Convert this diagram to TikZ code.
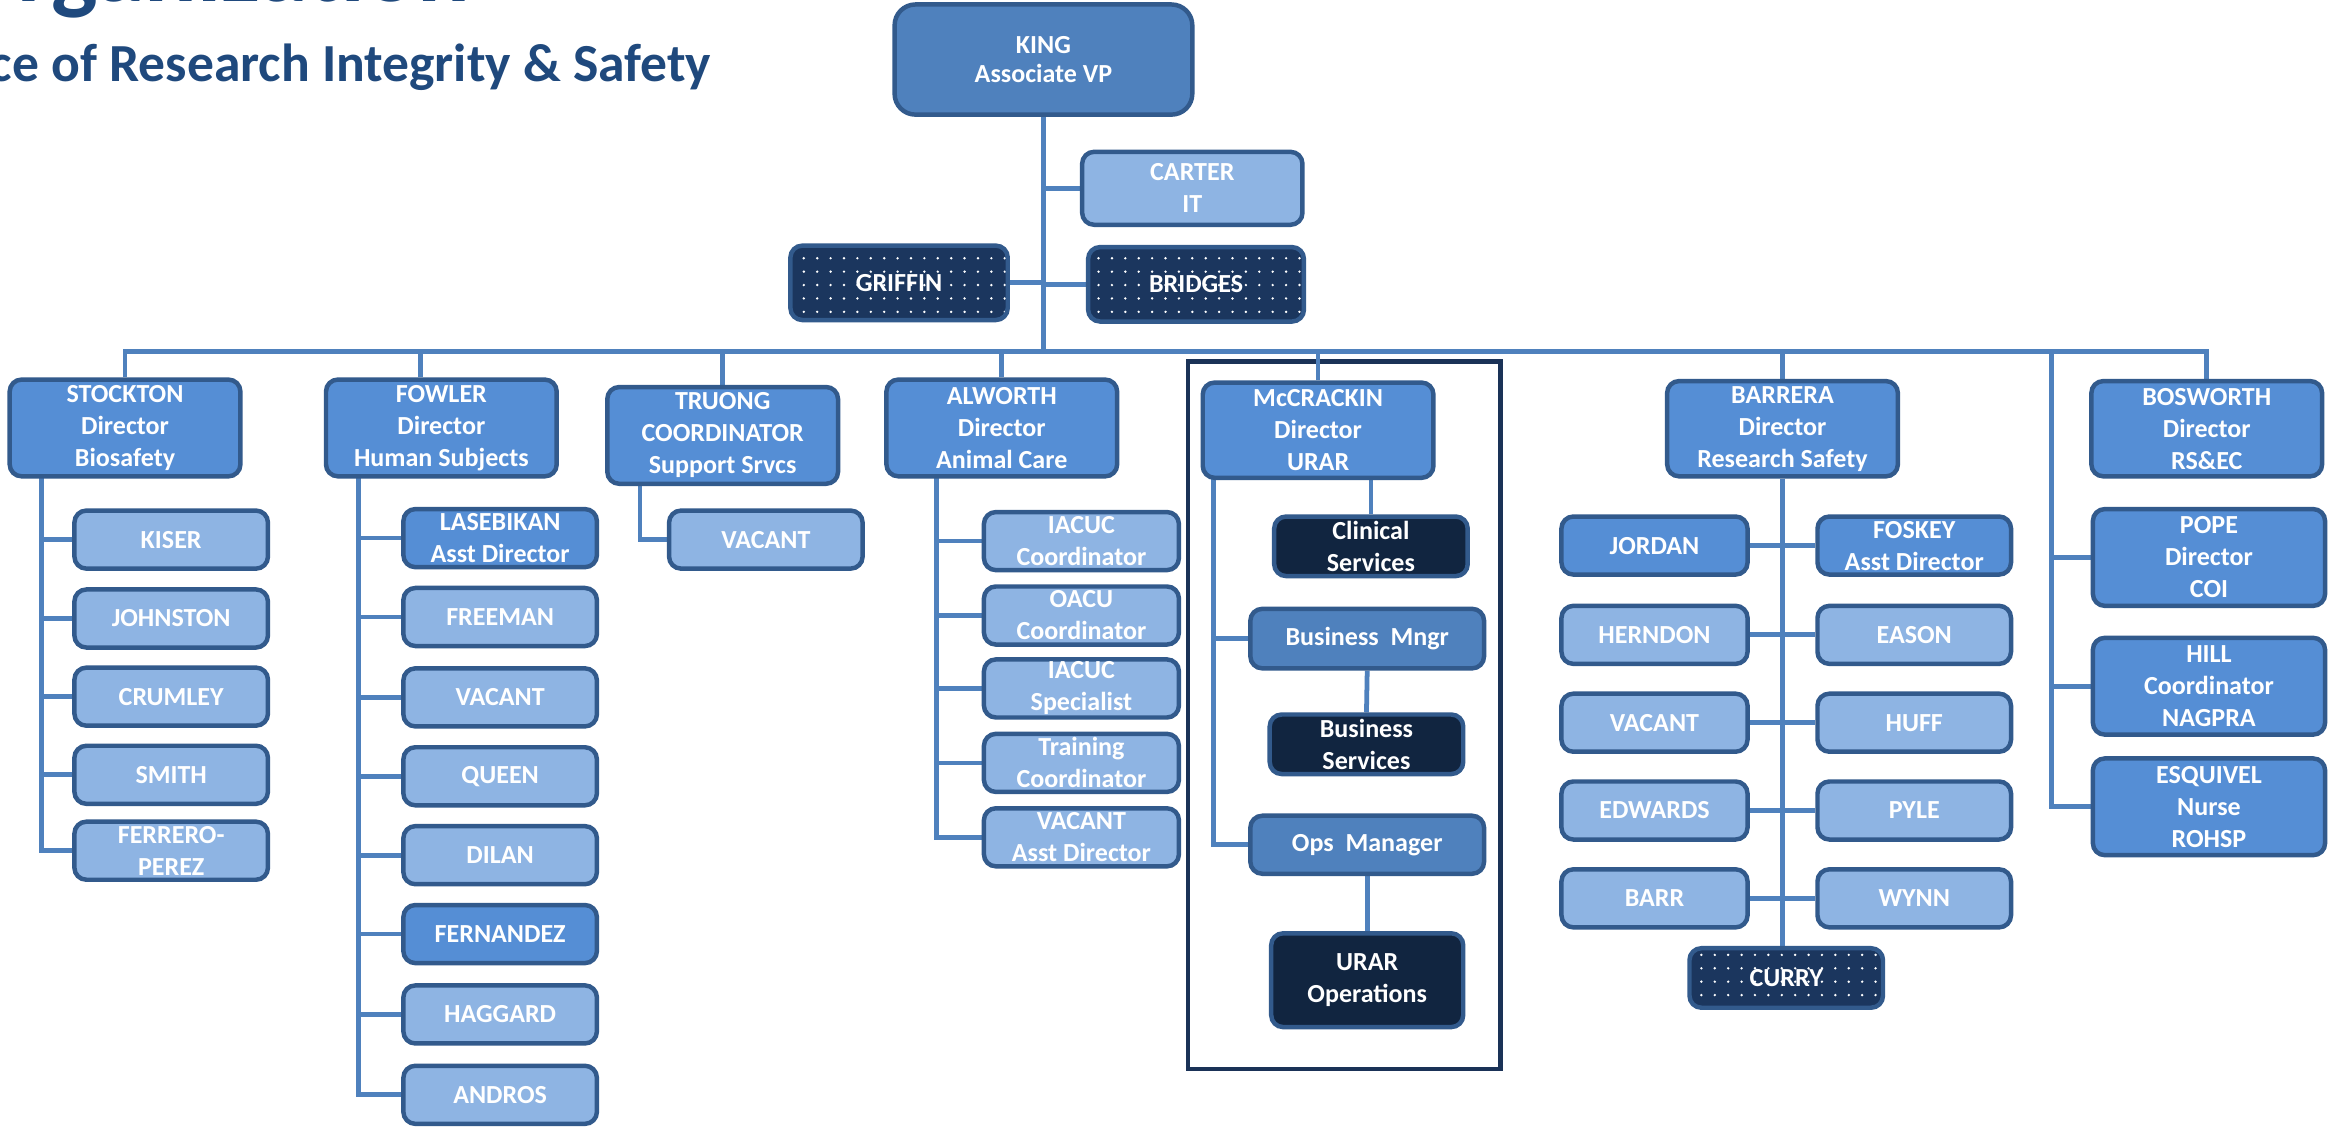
\documentclass[tikz,border=0pt]{standalone}
\usepackage{fontspec}
\setmainfont{Carlito}
\usetikzlibrary{patterns.meta,backgrounds}

\definecolor{linkblue}{HTML}{4F81BD}
\definecolor{boxline}{HTML}{325A8C}
\definecolor{kingfill}{HTML}{4F81BD}
\definecolor{midfill}{HTML}{558ED5}
\definecolor{lightfill}{HTML}{8EB4E3}
\definecolor{navyfill}{HTML}{112540}
\definecolor{dotfill}{HTML}{1B365E}
\definecolor{titleblue}{HTML}{1F497D}
\definecolor{framenavy}{HTML}{1A3257}

\tikzset{
  box/.style={draw=boxline, line width=3pt, rounded corners=8pt, text=white,
    font=\bfseries\fontsize{17.5}{21.5}\selectfont, align=center, inner sep=0pt},
  head/.style={box, fill=midfill, minimum width=155, minimum height=65},
  sub/.style={box, fill=lightfill, minimum width=130, minimum height=39},
  subdark/.style={box, fill=midfill, minimum width=130, minimum height=39},
  navybox/.style={box, fill=navyfill, minimum width=130, minimum height=40},
  mgrbox/.style={box, fill=kingfill, minimum width=157, minimum height=40},
  dotbox/.style={box, preaction={fill=dotfill},
    pattern={Dots[distance=9pt, radius=0.9pt]}, pattern color=white,
    minimum width=146, minimum height=50},
  link/.style={draw=linkblue, line width=3.2pt},
  urarframe/.style={draw=framenavy, line width=3pt}
}

\begin{document}
\begin{tikzpicture}[x=1pt, y=-1pt]
    \useasboundingbox (0,0) rectangle (1568,758.5);
    \clip (0,0) rectangle (1568,758.5);

    % Titles, cut at the page edge
    \node[anchor=base east, inner sep=0pt, text=titleblue,
          font=\bfseries\fontsize{66}{70}\selectfont] (orgtitle) at (316,1) {Organization};
    \node[anchor=base east, inner sep=0pt, text=titleblue,
          font=\bfseries\fontsize{36}{40}\selectfont] (office) at (478,55) {Office of Research Integrity \& Safety};

    % Top of the chart
    \node[box, fill=kingfill, rounded corners=14pt, minimum width=200, minimum height=74,
          font=\bfseries\fontsize{17.5}{19.5}\selectfont] (king) at (701,40) {KING\\Associate VP};
    \node[box, fill=lightfill, minimum width=148, minimum height=49] (carter) at (801,126.5) {CARTER\\IT};
    \node[dotbox] (griffin) at (604,190) {GRIFFIN};
    \node[dotbox, minimum width=145] (bridges) at (803.5,191) {BRIDGES};

    % Directors
    \node[head] (stockton) at (84,287.5) {STOCKTON\\Director\\Biosafety};
    \node[head] (fowler) at (296.5,287.5) {FOWLER\\Director\\Human Subjects};
    \node[head] (truong) at (485.5,292.5) {TRUONG\\COORDINATOR\\Support Srvcs};
    \node[head] (alworth) at (673,287.5) {ALWORTH\\Director\\Animal Care};
    \node[head, minimum height=64] (mccrackin) at (885.5,289) {McCRACKIN\\Director\\URAR};
    \node[head, minimum height=64] (barrera) at (1197.5,288) {BARRERA\\Director\\Research Safety};
    \node[head, minimum height=64] (bosworth) at (1482.5,288) {BOSWORTH\\Director\\RS\&EC};

    % Biosafety staff
    \node[sub] (kiser) at (115,362.5) {KISER};
    \node[sub] (johnston) at (115,415.5) {JOHNSTON};
    \node[sub] (crumley) at (115,468) {CRUMLEY};
    \node[sub] (smith) at (115,520.5) {SMITH};
    \node[sub] (ferrero) at (115,571.5) {FERRERO-\\PEREZ};

    % Human subjects staff
    \node[subdark] (lasebikan) at (336,361.5) {LASEBIKAN\\Asst Director};
    \node[sub] (freeman) at (336,414.5) {FREEMAN};
    \node[sub] (vacanths) at (336,468.5) {VACANT};
    \node[sub] (queen) at (336,521.5) {QUEEN};
    \node[sub] (dilan) at (336,574.5) {DILAN};
    \node[subdark] (fernandez) at (336,627.5) {FERNANDEZ};
    \node[sub] (haggard) at (336,681.5) {HAGGARD};
    \node[sub] (andros) at (336,735.5) {ANDROS};

    % Support services
    \node[sub] (vacantss) at (514.5,362.5) {VACANT};

    % Animal care staff
    \node[sub, minimum width=131] (iacucco) at (726.5,363.5) {IACUC\\Coordinator};
    \node[sub, minimum width=131] (oacuco) at (726.5,413.5) {OACU\\Coordinator};
    \node[sub, minimum width=131] (iacucsp) at (726.5,462.5) {IACUC\\Specialist};
    \node[sub, minimum width=131] (training) at (726.5,512.5) {Training\\Coordinator};
    \node[sub, minimum width=131] (vacantac) at (726.5,562.5) {VACANT\\Asst Director};

    % URAR
    \node[navybox] (clinical) at (921,367) {Clinical\\Services};
    \node[mgrbox] (bizmgr) at (918.5,429) {Business\ \ Mngr};
    \node[navybox] (bizsvc) at (918,500) {Business\\Services};
    \node[mgrbox, minimum height=39] (opsmgr) at (918.5,567.5) {Ops\ \ Manager};
    \node[navybox, minimum width=129, minimum height=63] (uraops) at (918.5,658.5) {URAR\\Operations};

    % Research safety staff
    \node[subdark, minimum width=125] (jordan) at (1111.5,366.5) {JORDAN};
    \node[subdark] (foskey) at (1286,366.5) {FOSKEY\\Asst Director};
    \node[sub, minimum width=125] (herndon) at (1111.5,426.5) {HERNDON};
    \node[sub] (eason) at (1286,426.5) {EASON};
    \node[sub, minimum width=125] (vacantrs) at (1111.5,485.5) {VACANT};
    \node[sub] (huff) at (1286,485.5) {HUFF};
    \node[sub, minimum width=125] (edwards) at (1111.5,544.5) {EDWARDS};
    \node[sub] (pyle) at (1286,544.5) {PYLE};
    \node[sub, minimum width=125] (barr) at (1111.5,603.5) {BARR};
    \node[sub] (wynn) at (1286,603.5) {WYNN};
    \node[dotbox, minimum width=130, minimum height=40] (curry) at (1200,657) {CURRY};

    % RS&EC staff
    \node[head, minimum width=156] (pope) at (1484,374.5) {POPE\\Director\\COI};
    \node[head, minimum width=156] (hill) at (1484,461) {HILL\\Coordinator\\NAGPRA};
    \node[head, minimum width=156] (esquivel) at (1484,542) {ESQUIVEL\\Nurse\\ROHSP};

    % Connectors behind the boxes
    \begin{scope}[on background layer]
        \fill[white] (0,0) rectangle (1568,758.5);
        \draw[urarframe] (798,243) rectangle (1008,718);

        \coordinate (bus) at (701,236);
        \draw[link] (king.south) -- (bus);
        \draw[link] (carter.west) -- (carter.west -| king.south);
        \draw[link] (griffin.east) -- (griffin.east -| king.south);
        \draw[link] (bridges.west) -- (bridges.west -| king.south);
        \draw[link] (stockton.north) |- (bus) -| (bosworth.north);
        \draw[link] ([xshift=-14pt]fowler.north) -- ([xshift=-14pt]fowler.north |- bus);
        \draw[link] (truong.north) -- (truong.north |- bus);
        \draw[link] (alworth.north) -- (alworth.north |- bus);
        \draw[link] (mccrackin.north) -- (mccrackin.north |- bus);
        \draw[link] (barrera.north) -- (barrera.north |- bus);

        % Biosafety
        \coordinate (stocktrunk) at (28,320);
        \draw[link] (stocktrunk) |- (ferrero.west);
        \draw[link] (kiser.west) -- (kiser.west -| stocktrunk);
        \draw[link] (johnston.west) -- (johnston.west -| stocktrunk);
        \draw[link] (crumley.west) -- (crumley.west -| stocktrunk);
        \draw[link] (smith.west) -- (smith.west -| stocktrunk);

        % Human subjects
        \coordinate (fowltrunk) at (241,320);
        \draw[link] (fowltrunk) |- (andros.west);
        \draw[link] (lasebikan.west) -- (lasebikan.west -| fowltrunk);
        \draw[link] (freeman.west) -- (freeman.west -| fowltrunk);
        \draw[link] (vacanths.west) -- (vacanths.west -| fowltrunk);
        \draw[link] (queen.west) -- (queen.west -| fowltrunk);
        \draw[link] (dilan.west) -- (dilan.west -| fowltrunk);
        \draw[link] (fernandez.west) -- (fernandez.west -| fowltrunk);
        \draw[link] (haggard.west) -- (haggard.west -| fowltrunk);

        % Support services
        \draw[link] (430,325) |- (vacantss.west);

        % Animal care
        \coordinate (alwtrunk) at (629,320);
        \draw[link] (alwtrunk) |- (vacantac.west);
        \draw[link] (iacucco.west) -- (iacucco.west -| alwtrunk);
        \draw[link] (oacuco.west) -- (oacuco.west -| alwtrunk);
        \draw[link] (iacucsp.west) -- (iacucsp.west -| alwtrunk);
        \draw[link] (training.west) -- (training.west -| alwtrunk);

        % URAR
        \coordinate (mctrunk) at (815,321);
        \draw[link] (mctrunk) |- (opsmgr.west);
        \draw[link] (bizmgr.west) -- (bizmgr.west -| mctrunk);
        \draw[link] (clinical.north) -- (clinical.north |- mccrackin.south);
        \draw[link] (bizmgr.south) -- (bizsvc.north);
        \draw[link] (opsmgr.south) -- (uraops.north);

        % Research safety
        \draw[link] (barrera.south) -- (barrera.south |- curry.north);
        \draw[link] (jordan.east) -- (foskey.west);
        \draw[link] (herndon.east) -- (eason.west);
        \draw[link] (vacantrs.east) -- (huff.west);
        \draw[link] (edwards.east) -- (pyle.west);
        \draw[link] (barr.east) -- (wynn.west);

        % RS&EC
        \coordinate (rstrunk) at (1378,236);
        \draw[link] (rstrunk) |- (esquivel.west);
        \draw[link] (pope.west) -- (pope.west -| rstrunk);
        \draw[link] (hill.west) -- (hill.west -| rstrunk);
    \end{scope}
\end{tikzpicture}
\end{document}
